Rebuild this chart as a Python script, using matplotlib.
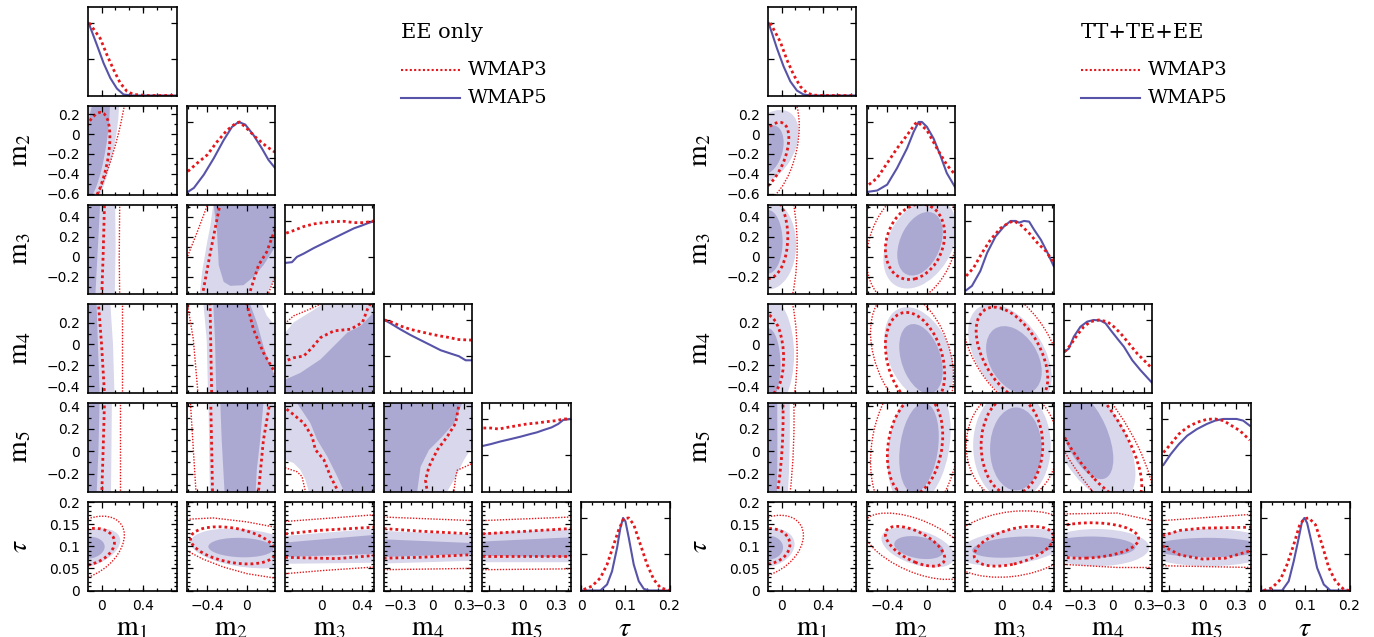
import numpy as np
import matplotlib
matplotlib.use('Agg')
import matplotlib.pyplot as plt
from matplotlib.patches import Circle
from matplotlib.transforms import Affine2D
from matplotlib.lines import Line2D
from matplotlib.ticker import FixedLocator, FixedFormatter, MultipleLocator, NullFormatter

plt.rcParams['font.family'] = ['DejaVu Sans']
plt.rcParams['mathtext.fontset'] = 'stix'

FIG_W, FIG_H = 1374, 637

# ---- axes of the triangle ----
AXIS_LABELS = [r'$\mathrm{m}_1$', r'$\mathrm{m}_2$', r'$\mathrm{m}_3$',
               r'$\mathrm{m}_4$', r'$\mathrm{m}_5$', r'$\tau$']
LIMITS = [(-0.13, 0.72), (-0.61, 0.285), (-0.37, 0.52), (-0.46, 0.38), (-0.36, 0.43), (0.0, 0.2)]
X_TICKS = [[0, 0.4], [-0.4, 0], [0, 0.4], [-0.3, 0, 0.3], [-0.3, 0, 0.3], [0, 0.1, 0.2]]
X_TICKLABELS = [['0', '0.4'], ['−0.4', '0'], ['0', '0.4'], ['−0.3', '0', '0.3'],
                ['−0.3', '0', '0.3'], ['0', '0.1', '0.2']]
Y_TICKS = [[0.5, 1.0], [-0.6, -0.4, -0.2, 0, 0.2], [-0.2, 0, 0.2, 0.4], [-0.4, -0.2, 0, 0.2],
           [-0.2, 0, 0.2, 0.4], [0, 0.05, 0.1, 0.15, 0.2]]
Y_TICKLABELS = [[], ['−0.6', '−0.4', '−0.2', '0', '0.2'], ['−0.2', '0', '0.2', '0.4'],
                ['−0.4', '−0.2', '0', '0.2'], ['−0.2', '0', '0.2', '0.4'],
                ['0', '0.05', '0.1', '0.15', '0.2']]
X_MINOR = [0.1333, 0.1, 0.1, 0.1, 0.1, 0.025]
Y_MINOR = [None, 0.1, 0.1, 0.1, 0.1, 0.01]

DARK = '#aba9d2'
LIGHT = '#d8d7eb'
BLUE = '#5753a8'
RED = '#e4181c'

# ---- 1D marginals (x, normalised probability) ----
EE_M1_W5 = [(-0.124, 1.0), (-0.044, 0.695), (0.02, 0.445), (0.084, 0.241), (0.148, 0.095),
            (0.211, 0.014), (0.291, 0.0), (0.72, 0.0)]
EE_M1_W3 = [(-0.118, 1.0), (-0.012, 0.786), (0.052, 0.56), (0.116, 0.355), (0.179, 0.173),
            (0.243, 0.059), (0.307, 0.014), (0.435, 0.0), (0.72, 0.0)]
EE_M2_W5 = [(-0.597, 0.036), (-0.536, 0.091), (-0.436, 0.273), (-0.335, 0.5), (-0.235, 0.75),
            (-0.151, 0.932), (-0.084, 1.0), (-0.017, 0.964), (0.067, 0.818), (0.151, 0.636),
            (0.218, 0.477), (0.285, 0.364)]
EE_M2_W3 = [(-0.597, 0.318), (-0.503, 0.432), (-0.402, 0.545), (-0.302, 0.727), (-0.201, 0.886),
            (-0.117, 0.977), (-0.074, 1.0), (0.0, 0.909), (0.101, 0.773), (0.201, 0.659), (0.285, 0.582)]
EE_M3_W5 = [(-0.36, 0.423), (-0.302, 0.432), (-0.252, 0.505), (-0.184, 0.55), (-0.082, 0.627),
            (0.019, 0.695), (0.121, 0.764), (0.222, 0.832), (0.324, 0.9), (0.391, 0.932),
            (0.459, 0.968), (0.52, 0.995)]
EE_M3_W3 = [(-0.36, 0.832), (-0.285, 0.868), (-0.184, 0.923), (-0.082, 0.959), (0.019, 0.977),
            (0.121, 0.991), (0.222, 0.995), (0.324, 0.977), (0.425, 0.977), (0.52, 1.0)]
EE_M4_W5 = [(-0.454, 1.0), (-0.397, 0.954), (-0.302, 0.87), (-0.206, 0.792), (-0.111, 0.722),
            (-0.016, 0.653), (0.079, 0.583), (0.174, 0.537), (0.253, 0.5), (0.317, 0.444), (0.38, 0.444)]
EE_M4_W3 = [(-0.454, 1.0), (-0.397, 0.977), (-0.302, 0.917), (-0.206, 0.87), (-0.111, 0.838),
            (-0.016, 0.806), (0.079, 0.778), (0.174, 0.755), (0.237, 0.731), (0.38, 0.722)]
EE_M5_W5 = [(-0.351, 0.63), (-0.286, 0.653), (-0.198, 0.69), (-0.11, 0.722), (-0.021, 0.755),
            (0.067, 0.792), (0.126, 0.815), (0.185, 0.847), (0.258, 0.884), (0.317, 0.931),
            (0.361, 0.986), (0.42, 1.0)]
EE_M5_W3 = [(-0.351, 0.875), (-0.286, 0.875), (-0.213, 0.861), (-0.139, 0.884), (-0.051, 0.907),
            (0.037, 0.931), (0.126, 0.944), (0.214, 0.963), (0.302, 0.977), (0.361, 1.0), (0.42, 1.0)]
EE_TAU_W5 = [(0.0, 0.0), (0.0438, 0.0), (0.0589, 0.083), (0.0702, 0.266), (0.0815, 0.587),
             (0.089, 0.862), (0.0951, 1.0), (0.1004, 0.954), (0.108, 0.725), (0.1192, 0.358),
             (0.1306, 0.128), (0.1419, 0.023), (0.1532, 0.0), (0.2, 0.0)]
EE_TAU_W3 = [(0.006, 0.014), (0.0249, 0.06), (0.0438, 0.174), (0.0589, 0.358), (0.074, 0.633),
             (0.0853, 0.839), (0.0966, 0.991), (0.1079, 1.0), (0.1192, 0.908), (0.1343, 0.633),
             (0.1494, 0.358), (0.1645, 0.151), (0.1796, 0.037), (0.2, 0.0)]

TT_M1_W5 = [(-0.124, 1.0), (-0.044, 0.65), (0.02, 0.4), (0.084, 0.195), (0.148, 0.068),
            (0.211, 0.014), (0.28, 0.0), (0.72, 0.0)]
TT_M1_W3 = [(-0.108, 1.0), (-0.012, 0.741), (0.052, 0.491), (0.116, 0.286), (0.179, 0.127),
            (0.243, 0.036), (0.307, 0.005), (0.4, 0.0), (0.72, 0.0)]
TT_M2_W5 = [(-0.603, 0.036), (-0.503, 0.055), (-0.402, 0.136), (-0.302, 0.364), (-0.201, 0.636),
            (-0.134, 0.864), (-0.084, 1.0), (-0.05, 1.0), (0.0, 0.932), (0.067, 0.773),
            (0.134, 0.545), (0.201, 0.295), (0.285, 0.1)]
TT_M2_W3 = [(-0.587, 0.136), (-0.503, 0.227), (-0.402, 0.432), (-0.302, 0.636), (-0.201, 0.818),
            (-0.117, 0.977), (-0.094, 1.0), (0.0, 0.886), (0.101, 0.636), (0.201, 0.409), (0.285, 0.273)]
TT_M3_W5 = [(-0.36, 0.045), (-0.302, 0.105), (-0.218, 0.309), (-0.15, 0.559), (-0.065, 0.786),
            (0.019, 0.923), (0.087, 1.0), (0.138, 1.0), (0.171, 0.977), (0.222, 1.0),
            (0.273, 0.991), (0.324, 0.877), (0.391, 0.741), (0.459, 0.559), (0.52, 0.377)]
TT_M3_W3 = [(-0.36, 0.241), (-0.285, 0.355), (-0.201, 0.559), (-0.116, 0.741), (-0.015, 0.9),
            (0.07, 0.977), (0.121, 1.0), (0.188, 0.945), (0.273, 0.832), (0.358, 0.695),
            (0.442, 0.582), (0.52, 0.423)]
TT_M4_W5 = [(-0.454, 0.56), (-0.412, 0.606), (-0.365, 0.769), (-0.302, 0.907), (-0.238, 0.977),
            (-0.175, 1.0), (-0.111, 0.991), (-0.064, 0.954), (-0.016, 0.861), (0.047, 0.745),
            (0.111, 0.63), (0.19, 0.444), (0.269, 0.306), (0.38, 0.13)]
TT_M4_W3 = [(-0.454, 0.56), (-0.397, 0.653), (-0.333, 0.792), (-0.27, 0.907), (-0.206, 0.977),
            (-0.127, 1.0), (-0.048, 0.977), (0.015, 0.907), (0.079, 0.815), (0.158, 0.676),
            (0.237, 0.537), (0.317, 0.421), (0.38, 0.329)]
TT_M5_W5 = [(-0.351, 0.366), (-0.286, 0.514), (-0.213, 0.653), (-0.139, 0.769), (-0.051, 0.861),
            (0.037, 0.931), (0.111, 0.977), (0.185, 1.0), (0.258, 1.0), (0.302, 1.0),
            (0.361, 0.977), (0.42, 0.907)]
TT_M5_W3 = [(-0.351, 0.537), (-0.286, 0.653), (-0.213, 0.792), (-0.139, 0.884), (-0.051, 0.954),
            (0.037, 0.995), (0.111, 1.0), (0.185, 0.977), (0.258, 0.907), (0.332, 0.838), (0.42, 0.708)]
TT_TAU_W5 = [(0.0, 0.0), (0.0476, 0.0), (0.0626, 0.128), (0.074, 0.404), (0.0853, 0.725),
             (0.0928, 0.954), (0.0981, 1.0), (0.1042, 0.931), (0.1155, 0.633), (0.1268, 0.312),
             (0.1419, 0.083), (0.157, 0.0), (0.2, 0.0)]
TT_TAU_W3 = [(0.006, 0.0), (0.0249, 0.037), (0.0438, 0.151), (0.0589, 0.358), (0.074, 0.633),
             (0.0876, 0.908), (0.0981, 0.991), (0.108, 1.0), (0.123, 0.908), (0.138, 0.633),
             (0.1533, 0.312), (0.1684, 0.128), (0.1872, 0.014), (0.2, 0.0)]

# ---- 2D contours ----
# tuple = ellipse (cx, cy, half-width x, half-width y, tilt); list = polygons / polylines
EE_M2_M1 = dict(dark=(-0.05, -0.05, 0.13, 0.6, 0.6), light=(-0.05, -0.1, 0.22, 0.75, 0.6),
                red1=(-0.1, -0.28, 0.18, 0.5, 0.5), red2=(-0.05, -0.05, 0.3, 0.9, 0.75))
EE_M3_M1 = dict(dark=[[(-0.3, -0.5), (-0.065, -0.5), (-0.04, 0.0), (-0.01, 0.6), (-0.3, 0.6)]],
                light=[[(-0.3, -0.5), (0.125, -0.5), (0.135, 0.1), (0.13, 0.6), (-0.3, 0.6)]],
                red1=[[(0.0, -0.45), (0.015, 0.0), (0.03, 0.6)]],
                red2=[[(0.175, -0.45), (0.17, 0.0), (0.175, 0.6)]])
EE_M4_M1 = dict(dark=[[(-0.3, -0.5), (-0.017, -0.5), (-0.035, 0.0), (-0.05, 0.45), (-0.3, 0.45)]],
                light=[[(-0.3, -0.5), (0.125, -0.5), (0.11, 0.0), (0.08, 0.45), (-0.3, 0.45)]],
                red1=[[(0.03, -0.5), (0.0, 0.0), (-0.035, 0.45)]],
                red2=[[(0.2, -0.5), (0.2, 0.45)]])
EE_M5_M1 = dict(dark=[[(-0.3, -0.45), (-0.05, -0.45), (-0.03, 0.0), (-0.017, 0.5), (-0.3, 0.5)]],
                light=[[(-0.3, -0.45), (0.09, -0.45), (0.095, 0.0), (0.1, 0.5), (-0.3, 0.5)]],
                red1=[[(0.0, -0.45), (0.015, 0.0), (0.03, 0.5)]],
                red2=[[(0.176, -0.45), (0.176, 0.5)]])
EE_TAU_M1 = dict(dark=(-0.13, 0.0965, 0.16, 0.025, 0.1), light=(-0.13, 0.0945, 0.31, 0.0455, 0.4),
                 red1=(-0.13, 0.0985, 0.254, 0.042, 0.25), red2=(-0.13, 0.096, 0.349, 0.072, 0.4))
EE_M3_M2 = dict(dark=[[(-0.335, 0.6), (-0.335, 0.513), (-0.302, 0.247), (-0.285, -0.086), (-0.235, -0.253),
                       (-0.168, -0.293), (-0.034, -0.286), (0.067, -0.203), (0.167, -0.086),
                       (0.285, 0.097), (0.4, 0.15), (0.4, 0.6)]],
                light=[[(-0.5, -0.5), (-0.476, -0.369), (-0.453, -0.153), (-0.402, 0.147), (-0.369, 0.314),
                        (-0.33, 0.6), (0.4, 0.6), (0.4, -0.2), (0.285, -0.22), (0.2, -0.37), (0.19, -0.5)]],
                red1=[[(-0.453, -0.4), (-0.369, 0.047), (-0.302, 0.38), (-0.268, 0.55)],
                      [(0.016, -0.4), (0.117, -0.086), (0.2, 0.047), (0.3, 0.32)]],
                red2=[[(-0.65, -0.1), (-0.603, -0.003), (-0.503, 0.247), (-0.402, 0.513), (-0.38, 0.6)],
                      [(0.2, -0.45), (0.217, -0.369), (0.285, -0.203), (0.32, -0.15)]])
EE_M4_M2 = dict(dark=[[(-0.34, 0.5), (-0.34, 0.38), (-0.323, 0.045), (-0.306, -0.6), (0.4, -0.6), (0.4, -0.35),
                       (0.286, -0.306), (0.235, -0.21), (0.167, -0.019), (0.1, 0.205), (0.032, 0.38),
                       (0.03, 0.5)]],
                light=[[(-0.44, 0.5), (-0.44, 0.38), (-0.407, 0.045), (-0.39, -0.6), (0.4, -0.6), (0.4, 0.15),
                        (0.286, 0.173), (0.2, 0.27), (0.15, 0.38), (0.14, 0.5)]],
                red1=[[(-0.373, 0.45), (-0.373, 0.38), (-0.356, -0.5)],
                      [(0.0, 0.45), (0.0, 0.38), (0.066, 0.14), (0.167, -0.083), (0.286, -0.274), (0.32, -0.33)]],
                red2=[[(-0.6, 0.45), (-0.593, 0.332), (-0.542, 0.045), (-0.492, -0.5)]])
EE_M5_M2 = dict(dark=[[(-0.272, 0.5), (-0.255, 0.1), (-0.221, -0.45), (0.083, -0.45), (0.1, -0.166),
                       (0.134, 0.1), (0.167, 0.43), (0.17, 0.5)]],
                light=[[(-0.39, 0.5), (-0.373, -0.45), (0.4, -0.45), (0.4, 0.5)]],
                red1=[[(-0.367, 0.5), (-0.346, -0.45)],
                      [(0.23, 0.5), (0.228, 0.415), (0.167, 0.1), (0.117, -0.36), (0.11, -0.45)]],
                red2=[[(-0.576, 0.5), (-0.509, -0.45)]])
EE_TAU_M2 = dict(dark=(-0.06, 0.097, 0.33, 0.022, -0.1), light=(0.0, 0.095, 0.57, 0.045, -0.3),
                 red1=(-0.14, 0.102, 0.43, 0.042, -0.35),
                 red2=[[(-0.61, 0.161), (-0.342, 0.164), (0.002, 0.155), (0.285, 0.143)],
                       [(-0.61, 0.09), (-0.445, 0.071), (-0.238, 0.053), (0.002, 0.038), (0.285, 0.028)]])
EE_M4_M3 = dict(dark=[[(-0.5, -0.338), (-0.37, -0.338), (-0.218, -0.274), (-0.015, -0.146), (0.12, -0.019),
                       (0.255, 0.109), (0.391, 0.173), (0.519, 0.3), (0.6, 0.35), (0.6, -0.6), (-0.5, -0.6)]],
                light=[[(-0.5, 0.109), (-0.37, 0.109), (-0.285, 0.205), (-0.15, 0.284), (-0.015, 0.364),
                        (0.02, 0.5), (0.6, 0.5), (0.6, -0.6), (-0.5, -0.6)]],
                red1=[[(-0.4, -0.17), (-0.37, -0.162), (-0.285, -0.13), (-0.184, -0.114), (-0.1, -0.035),
                       (-0.015, 0.061), (0.12, 0.125), (0.289, 0.141), (0.407, 0.205), (0.458, 0.332),
                       (0.485, 0.38), (0.5, 0.45)]],
                red2=[[(-0.4, 0.18), (-0.36, 0.205), (-0.285, 0.268), (-0.201, 0.3), (-0.083, 0.348),
                       (-0.015, 0.38), (0.0, 0.45)]])
EE_M5_M3 = dict(dark=[[(-0.26, 0.6), (-0.252, 0.43), (-0.117, 0.251), (-0.049, 0.102), (0.053, -0.047),
                       (0.154, -0.226), (0.222, -0.36), (0.24, -0.5), (0.6, -0.5), (0.6, 0.6)]],
                light=[[(-0.5, 0.6), (0.6, 0.6), (0.6, -0.5), (-0.13, -0.5), (-0.133, -0.36), (-0.167, -0.255),
                        (-0.218, -0.166), (-0.285, -0.106), (-0.37, -0.077), (-0.5, -0.07)]],
                red1=[[(-0.4, 0.41), (-0.37, 0.385), (-0.285, 0.326), (-0.184, 0.251), (-0.1, 0.132),
                       (-0.066, 0.013), (0.019, -0.077), (0.086, -0.226), (0.154, -0.345), (0.17, -0.45)]],
                red2=[[(-0.4, -0.14), (-0.353, -0.153), (-0.252, -0.183), (-0.201, -0.226), (-0.167, -0.36),
                       (-0.16, -0.45)]])
EE_TAU_M3 = dict(dark=[[(-0.5, 0.106), (0.6, 0.127), (0.6, 0.083), (-0.5, 0.075)]],
                 light=[[(-0.5, 0.121), (0.6, 0.141), (0.6, 0.063), (-0.5, 0.06)]],
                 red1=[[(-0.37, 0.128), (-0.02, 0.136), (0.52, 0.143)],
                       [(-0.37, 0.075), (0.15, 0.072), (0.52, 0.079)]],
                 red2=[[(-0.37, 0.156), (0.52, 0.171)], [(-0.37, 0.038), (0.0, 0.045), (0.52, 0.053)]])
EE_M5_M4 = dict(dark=[[(-0.6, 0.6), (0.29, 0.6), (0.285, 0.43), (0.206, 0.25), (0.095, 0.13), (-0.032, 0.01),
                       (-0.111, -0.14), (-0.143, -0.359), (-0.15, -0.5), (-0.6, -0.5)]],
                light=[[(-0.6, 0.6), (0.5, 0.6), (0.5, 0.04), (0.38, 0.04), (0.3, -0.08), (0.222, -0.23),
                        (0.142, -0.359), (0.13, -0.5), (-0.6, -0.5)]],
                red1=[[(0.255, 0.5), (0.253, 0.415), (0.222, 0.25), (0.142, 0.13), (0.047, 0.01),
                       (-0.032, -0.14), (-0.064, -0.26), (-0.048, -0.359), (-0.045, -0.45)]],
                red2=[[(0.45, -0.09), (0.38, -0.11), (0.237, -0.17), (0.222, -0.23), (0.206, -0.359),
                       (0.2, -0.45)]])
EE_TAU_M4 = dict(dark=[[(-0.6, 0.117), (0.5, 0.106), (0.5, 0.083), (-0.6, 0.075)]],
                 light=[[(-0.6, 0.136), (0.5, 0.125), (0.5, 0.068), (-0.6, 0.06)]],
                 red1=[[(-0.46, 0.14), (-0.11, 0.134), (0.38, 0.128)],
                       [(-0.46, 0.073), (-0.11, 0.075), (0.38, 0.081)]],
                 red2=[[(-0.46, 0.166), (0.38, 0.158)], [(-0.46, 0.047), (0.38, 0.05)]])
EE_TAU_M5 = dict(dark=[[(-0.5, 0.109), (0.5, 0.121), (0.5, 0.075), (-0.5, 0.079)]],
                 light=[[(-0.5, 0.128), (0.5, 0.14), (0.5, 0.064), (-0.5, 0.064)]],
                 red1=[[(-0.36, 0.128), (0.43, 0.14)], [(-0.36, 0.079), (0.43, 0.079)]],
                 red2=[[(-0.36, 0.158), (0.43, 0.166)], [(-0.36, 0.047), (0.43, 0.049)]])

TT_M2_M1 = dict(dark=(-0.13, -0.16, 0.15, 0.25, 0.3), light=(-0.13, -0.135, 0.295, 0.38, 0.4),
                red1=(-0.13, -0.23, 0.2, 0.35, 0.55), red2=(-0.13, -0.1, 0.3, 0.6, 0.3))
TT_M3_M1 = dict(dark=(-0.13, 0.15, 0.14, 0.32, 0.0), light=(-0.13, 0.12, 0.27, 0.45, 0.0),
                red1=(-0.13, 0.2, 0.19, 0.42, 0.0), red2=(-0.13, 0.1, 0.28, 0.9, 0.0))
TT_M4_M1 = dict(dark=(-0.13, -0.2, 0.12, 0.35, 0.0), light=(-0.13, -0.1, 0.25, 0.55, 0.0),
                red1=(-0.13, -0.1, 0.15, 0.38, -0.1), red2=(-0.13, -0.1, 0.28, 0.9, 0.0))
TT_M5_M1 = dict(dark=(-0.13, 0.1, 0.09, 1.5, 0.0), light=(-0.13, 0.1, 0.21, 1.5, 0.1),
                red1=(-0.13, 0.15, 0.145, 0.8, 0.2), red2=(-0.13, 0.1, 0.25, 1.2, 0.15))
TT_TAU_M1 = dict(dark=(-0.13, 0.097, 0.145, 0.027, 0.0), light=(-0.13, 0.096, 0.255, 0.044, 0.2),
                 red1=(-0.13, 0.1, 0.21, 0.04, 0.1), red2=(-0.13, 0.1, 0.34, 0.07, 0.35))
TT_M3_M2 = dict(dark=(-0.07, 0.13, 0.23, 0.32, 0.35), light=(-0.07, 0.13, 0.37, 0.45, 0.35),
                red1=(-0.12, 0.15, 0.3, 0.38, 0.2), red2=(-0.15, 0.12, 0.46, 0.6, 0.25))
TT_M4_M2 = dict(dark=(-0.06, -0.14, 0.22, 0.33, -0.35), light=(-0.08, -0.1, 0.35, 0.45, -0.35),
                red1=(-0.12, -0.15, 0.3, 0.45, -0.3), red2=(-0.15, -0.1, 0.42, 0.6, -0.35))
TT_M5_M2 = dict(dark=(-0.08, 0.03, 0.2, 0.4, 0.25), light=(-0.08, 0.05, 0.32, 0.55, 0.25),
                red1=(-0.12, 0.05, 0.28, 0.45, 0.2), red2=(-0.12, 0.05, 0.45, 0.7, 0.2))
TT_TAU_M2 = dict(dark=(-0.08, 0.097, 0.25, 0.026, -0.3), light=(-0.09, 0.097, 0.37, 0.045, -0.45),
                 red1=(-0.12, 0.1, 0.3, 0.045, -0.6), red2=(-0.1, 0.1, 0.55, 0.075, -0.55))
TT_M4_M3 = dict(dark=(0.12, -0.15, 0.28, 0.32, -0.35), light=(0.08, -0.1, 0.42, 0.48, -0.45),
                red1=(0.1, -0.1, 0.36, 0.45, -0.5), red2=(0.1, -0.05, 0.5, 0.6, -0.5))
TT_M5_M3 = dict(dark=(0.14, 0.02, 0.26, 0.37, 0.0), light=(0.1, 0.05, 0.39, 0.5, 0.0),
                red1=(0.1, 0.05, 0.31, 0.44, 0.0), red2=(0.1, 0.05, 0.46, 0.5, 0.0))
TT_TAU_M3 = dict(dark=(0.12, 0.098, 0.42, 0.024, 0.3), light=(0.1, 0.098, 0.55, 0.042, 0.35),
                 red1=(0.12, 0.1, 0.4, 0.045, 0.45), red2=(0.1, 0.105, 0.65, 0.075, 0.2))
TT_M5_M4 = dict(dark=(-0.25, 0.15, 0.26, 0.4, -0.55), light=(-0.2, 0.1, 0.42, 0.55, -0.55),
                red1=(-0.17, 0.15, 0.45, 0.6, -0.75), red2=(-0.15, 0.1, 0.55, 0.75, -0.75))
TT_TAU_M4 = dict(dark=(-0.2, 0.098, 0.42, 0.024, 0.0), light=(-0.15, 0.097, 0.5, 0.042, 0.0),
                 red1=(-0.25, 0.113, 0.5, 0.04, 0.1),
                 red2=[[(-0.46, 0.173), (0.05, 0.175), (0.38, 0.158)],
                       [(-0.46, 0.059), (0.05, 0.052), (0.38, 0.052)]])
TT_TAU_M5 = dict(dark=(0.05, 0.097, 0.5, 0.022, 0.0), light=(0.05, 0.097, 0.6, 0.042, 0.0),
                 red1=[[(-0.36, 0.124), (-0.2, 0.136), (0.0, 0.141), (0.43, 0.143)],
                       [(-0.36, 0.101), (-0.2, 0.08), (0.0, 0.071), (0.2, 0.073), (0.43, 0.09)]],
                 red2=[[(-0.36, 0.158), (0.43, 0.172)], [(-0.36, 0.056), (0.43, 0.052)]])

EE_1D = [(EE_M1_W3, EE_M1_W5), (EE_M2_W3, EE_M2_W5), (EE_M3_W3, EE_M3_W5),
         (EE_M4_W3, EE_M4_W5), (EE_M5_W3, EE_M5_W5), (EE_TAU_W3, EE_TAU_W5)]
TT_1D = [(TT_M1_W3, TT_M1_W5), (TT_M2_W3, TT_M2_W5), (TT_M3_W3, TT_M3_W5),
         (TT_M4_W3, TT_M4_W5), (TT_M5_W3, TT_M5_W5), (TT_TAU_W3, TT_TAU_W5)]
EE_2D = {(1, 0): EE_M2_M1, (2, 0): EE_M3_M1, (3, 0): EE_M4_M1, (4, 0): EE_M5_M1, (5, 0): EE_TAU_M1,
         (2, 1): EE_M3_M2, (3, 1): EE_M4_M2, (4, 1): EE_M5_M2, (5, 1): EE_TAU_M2,
         (3, 2): EE_M4_M3, (4, 2): EE_M5_M3, (5, 2): EE_TAU_M3,
         (4, 3): EE_M5_M4, (5, 3): EE_TAU_M4, (5, 4): EE_TAU_M5}
TT_2D = {(1, 0): TT_M2_M1, (2, 0): TT_M3_M1, (3, 0): TT_M4_M1, (4, 0): TT_M5_M1, (5, 0): TT_TAU_M1,
         (2, 1): TT_M3_M2, (3, 1): TT_M4_M2, (4, 1): TT_M5_M2, (5, 1): TT_TAU_M2,
         (3, 2): TT_M4_M3, (4, 2): TT_M5_M3, (5, 2): TT_TAU_M3,
         (4, 3): TT_M5_M4, (5, 3): TT_TAU_M4, (5, 4): TT_TAU_M5}

DOT = (0, (1, 1.1))


def draw_shape(ax, item, color, fill, lw=1.0):
    if isinstance(item, tuple):
        cx, cy, sx, sy, rho = item
        tr = Affine2D().from_values(sx, sy * rho, 0, sy * np.sqrt(1 - rho ** 2), cx, cy) + ax.transData
        if fill:
            ax.add_patch(Circle((0, 0), 1, facecolor=color, edgecolor='none', transform=tr))
        else:
            ax.add_patch(Circle((0, 0), 1, fill=False, edgecolor=color, lw=lw, ls=DOT, transform=tr))
    else:
        for pts in item:
            xs, ys = zip(*pts)
            if fill:
                ax.fill(xs, ys, color=color, lw=0)
            else:
                ax.plot(xs, ys, color=color, lw=lw, ls=DOT)


def style_axes(ax, col, row, is_1d):
    ax.set_xlim(*LIMITS[col])
    ax.xaxis.set_major_locator(FixedLocator(X_TICKS[col]))
    ax.xaxis.set_minor_locator(MultipleLocator(X_MINOR[col]))
    if row == 5:
        ax.xaxis.set_major_formatter(FixedFormatter(X_TICKLABELS[col]))
    else:
        ax.xaxis.set_major_formatter(NullFormatter())
    if is_1d:
        ax.set_ylim(0, 1.22)
        ax.yaxis.set_major_locator(FixedLocator(Y_TICKS[0]))
        ax.yaxis.set_major_formatter(NullFormatter())
    else:
        ax.set_ylim(*LIMITS[row])
        ax.yaxis.set_major_locator(FixedLocator(Y_TICKS[row]))
        ax.yaxis.set_minor_locator(MultipleLocator(Y_MINOR[row]))
        if col == 0:
            ax.yaxis.set_major_formatter(FixedFormatter(Y_TICKLABELS[row]))
        else:
            ax.yaxis.set_major_formatter(NullFormatter())
    ax.tick_params(which='both', direction='in', top=True, right=True, width=0.9, labelsize=10, pad=6)
    ax.tick_params(which='major', length=4.2)
    ax.tick_params(which='minor', length=2.2)
    for s in ax.spines.values():
        s.set_linewidth(1.2)
    if row == 5:
        ax.text(0.5, -0.51, AXIS_LABELS[col], transform=ax.transAxes, ha='center', va='baseline', fontsize=20)
    if col == 0 and row > 0:
        ax.text(-0.78, 0.5, AXIS_LABELS[row], transform=ax.transAxes, ha='center', va='center',
                rotation=90, fontsize=20)


def draw_triangle(fig, x0, title, panels, curves):
    for row in range(6):
        for col in range(row + 1):
            left = (x0 + 98.6 * col) / FIG_W
            bottom = 1 - (7 + 99 * row + 88.5) / FIG_H
            ax = fig.add_axes([left, bottom, 88.5 / FIG_W, 88.5 / FIG_H])
            ax.set_autoscale_on(False)
            style_axes(ax, col, row, row == col)
            if row == col:
                w3, w5 = curves[col]
                xs, ys = zip(*w5)
                ax.plot(xs, ys, color=BLUE, lw=1.5)
                xs, ys = zip(*w3)
                ax.plot(xs, ys, color=RED, lw=2.0, ls=DOT)
            else:
                p = panels[(row, col)]
                draw_shape(ax, p['light'], LIGHT, True)
                draw_shape(ax, p['dark'], DARK, True)
                draw_shape(ax, p['red2'], RED, False, lw=1.0)
                draw_shape(ax, p['red1'], RED, False, lw=2.0)
    # legend block
    lx = (x0 + 313) / FIG_W
    fig.text(lx, 1 - 32 / FIG_H, title, ha='left', va='center', fontsize=15, family='DejaVu Serif')
    fig.add_artist(Line2D([lx, lx + 59 / FIG_W], [1 - 70 / FIG_H] * 2, color=RED, lw=1.5, ls=DOT,
                          transform=fig.transFigure))
    fig.add_artist(Line2D([lx, lx + 59 / FIG_W], [1 - 98 / FIG_H] * 2, color=BLUE, lw=1.5,
                          transform=fig.transFigure))
    fig.text(lx + 67 / FIG_W, 1 - 70 / FIG_H, 'WMAP3', ha='left', va='center', fontsize=14, family='DejaVu Serif')
    fig.text(lx + 67 / FIG_W, 1 - 98 / FIG_H, 'WMAP5', ha='left', va='center', fontsize=14, family='DejaVu Serif')


fig = plt.figure(figsize=(FIG_W / 100, FIG_H / 100), dpi=100)
draw_triangle(fig, 88, 'EE only', EE_2D, EE_1D)
draw_triangle(fig, 768, 'TT+TE+EE', TT_2D, TT_1D)
fig.savefig('out.png', dpi=100)
